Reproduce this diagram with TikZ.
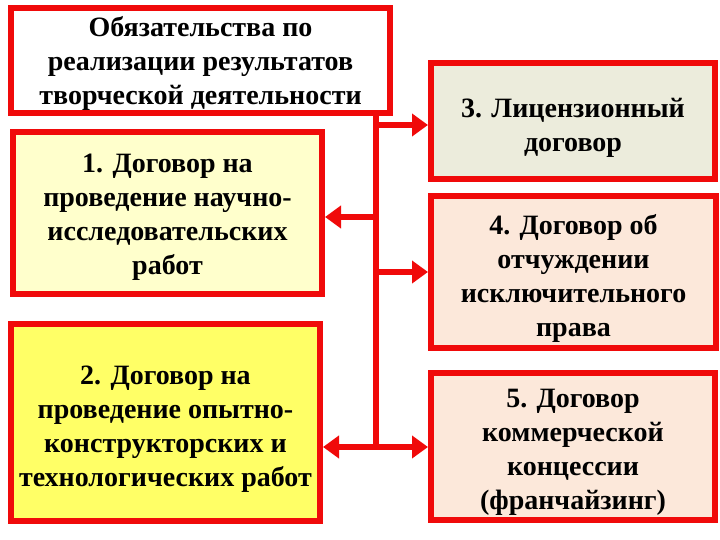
\documentclass[tikz,border=0pt]{standalone}
\usepackage{fontspec}
\setmainfont{Liberation Serif}
\usetikzlibrary{arrows.meta}
\definecolor{bred}{HTML}{F00A0A}
\definecolor{fillA}{HTML}{FFFFFF}
\definecolor{fillB}{HTML}{FFFFCC}
\definecolor{fillC}{HTML}{FFFF66}
\definecolor{fillD}{HTML}{ECECDC}
\definecolor{fillE}{HTML}{FCE8DA}
\newcommand{\lowertxt}[1]{\rule{0pt}{#1}}
\tikzset{
  box/.style={draw=bred, line width=6pt, rectangle, align=center, inner sep=2pt,
    font=\fontsize{28}{34}\selectfont\bfseries, text=black},
  arr/.style={draw=bred, line width=5.5pt, -{Triangle[length=16pt,width=22pt]}},
  spine/.style={draw=bred, line width=5.5pt}
}
\begin{document}
\begin{tikzpicture}[x=1pt,y=-1pt]
\useasboundingbox (0,0) rectangle (720,540);
\node[box, fill=fillA, minimum width=379pt, minimum height=105pt] (t) at (200.5,60.5)
  {\lowertxt{26pt}Обязательства по\\реализации результатов\\творческой деятельности};
\node[box, fill=fillB, minimum width=309pt, minimum height=162pt] (b1) at (167.5,213)
  {\lowertxt{26pt}1. Договор на\\проведение научно-\\исследовательских\\работ};
\node[box, fill=fillC, minimum width=309pt, minimum height=197pt] (b2) at (165.5,422.5)
  {\lowertxt{32pt}2. Договор на\\проведение опытно-\\конструкторских и\\технологических работ};
\node[box, fill=fillD, minimum width=284pt, minimum height=116pt] (b3) at (573,121)
  {\lowertxt{33pt}3. Лицензионный\\договор};
\node[box, fill=fillE, minimum width=285pt, minimum height=152pt] (b4) at (573.5,272)
  {\lowertxt{33pt}4. Договор об\\отчуждении\\исключительного\\права};
\node[box, fill=fillE, minimum width=284pt, minimum height=147pt] (b5) at (573,446.5)
  {\lowertxt{29pt}5. Договор\\коммерческой\\концессии\\(франчайзинг)};
\coordinate (s0) at (376,113);
\coordinate (s1) at (376,125);
\coordinate (s2) at (376,217);
\coordinate (s3) at (376,272);
\coordinate (s4) at (376,447);
\draw[spine] (s0) -- ([yshift=-2.75pt]s4);
\draw[arr] ([xshift=-2.75pt]s1) -- (s1 -| b3.west);
\draw[arr] (s2) -- (s2 -| b1.east);
\draw[arr] (s3) -- (s3 -| b4.west);
\draw[arr] (s4) -- (s4 -| b2.east);
\draw[arr] (s4) -- (s4 -| b5.west);
\end{tikzpicture}
\end{document}
